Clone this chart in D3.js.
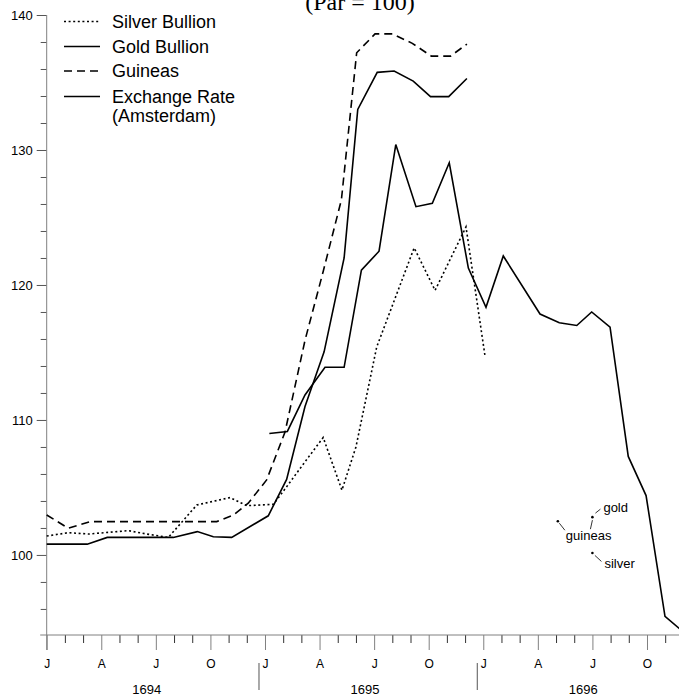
<!DOCTYPE html>
<html>
<head>
<meta charset="utf-8">
<script src="https://cdn.jsdelivr.net/npm/d3@7"></script>
<style>
body{margin:0;background:#fff;}
svg{display:block;font-family:"Liberation Sans",Arial,Helvetica,sans-serif;}
</style>
</head>
<body>
<svg id="chart" width="679" height="697"></svg>
<script>
// [month index (0 = Jan 1694), index value (par = 100)]
const silverBullion = [[0,101.4],[1.19,101.65],[2.3,101.55],[4.49,101.8],[5.5,101.55],[6.69,101.3],
    [8.25,103.7],[10.08,104.25],[11.0,103.65],[12.46,103.75],[13.19,105.05],[14.2,106.9],[15.2,108.7],
    [16.23,104.8],[17.0,108.0],[18.14,115.4],[20.2,122.75],[21.35,119.6],[23.05,124.3],[24.1,114.7]];
const goldBullion = [[0,100.8],[2.23,100.8],[3.33,101.3],[6.96,101.3],[8.28,101.73],[9.16,101.35],
    [10.17,101.3],[12.18,102.9],[13.19,105.6],[14.2,111.0],[15.25,115.05],[16.35,122.0],[17.1,133.0],
    [18.17,135.75],[19.1,135.85],[20.15,135.1],[21.1,133.95],[22.1,133.95],[23.1,135.3]];
const guineas = [[0,102.96],[1.19,101.98],[2.38,102.47],[9.35,102.47],[10.26,102.96],[11.08,103.83],
    [12.09,105.56],[13.1,109.1],[14.2,115.9],[15.2,121.0],[16.2,126.3],[17.04,137.2],[18.05,138.6],
    [19.0,138.6],[20.1,137.9],[21.15,136.95],[22.2,136.95],[23.1,137.85]];
const exchangeRate = [[12.24,109.0],[13.23,109.15],[14.2,111.85],[15.3,113.9],[16.35,113.9],[17.3,121.1],
    [18.27,122.5],[19.19,130.4],[20.3,125.8],[21.2,126.05],[22.13,129.05],[23.18,121.25],[24.15,118.35],
    [25.1,122.15],[27.12,117.85],[28.18,117.2],[29.14,117.0],[29.96,118.0],[30.97,116.87],[31.97,107.3],
    [32.95,104.4],[33.99,95.45],[35,94.3]];

const seriesNames = ["Silver Bullion","Gold Bullion","Guineas","Exchange Rate\n(Amsterdam)"];
const annotations = [
    {name:"guineas", month:28.1, value:102.5},
    {name:"gold", month:30.0, value:102.8},
    {name:"silver", month:30.0, value:100.15}
];
const yTicks = d3.range(96, 141, 2);
const yLabels = [100,110,120,130,140];
const months = d3.range(0, 35);
const monthLetters = ["J","A","J","O"];
const years = [1694,1695,1696];

let svg = d3.select("#chart");
let x = d3.scaleLinear().domain([0, 34.76]).range([46.7, 679]);
let y = d3.scaleLinear().domain([94.07, 140]).range([635, 15]);
let axisGrey = "#808080";

// title (cut off at the top, as in the source)
svg.append("text")
    .attr("x", 360).attr("y", 10)
    .attr("text-anchor", "middle")
    .attr("font-family", "'Liberation Serif','Times New Roman',serif")
    .attr("font-size", "24px")
    .text("(Par = 100)");

// y axis
svg.append("g")
    .attr("transform", `translate(${x(0)},0)`)
    .call(d3.axisLeft(y).tickValues(yTicks.filter(v => v % 10 !== 0)).tickSize(6).tickFormat(""));
let yMajor = svg.append("g")
    .attr("transform", `translate(${x(0)},0)`)
    .call(d3.axisLeft(y).tickValues(yLabels).tickSize(10).tickPadding(4));
yMajor.selectAll("text").attr("font-size", "13px").attr("font-family", null).attr("fill", "#000");
svg.selectAll(".domain").remove();
svg.selectAll(".tick line").attr("stroke", "#555");
svg.append("line")
    .attr("x1", x(0)).attr("x2", x(0))
    .attr("y1", y(140)).attr("y2", y.range()[0] + 15)
    .attr("stroke", axisGrey);

// x axis
let xMinor = svg.append("g")
    .attr("transform", `translate(0,${y.range()[0]})`)
    .call(d3.axisBottom(x).tickValues(months.filter(m => m % 3 !== 0)).tickSize(8).tickFormat(""));
let xMajor = svg.append("g")
    .attr("transform", `translate(0,${y.range()[0]})`)
    .call(d3.axisBottom(x).tickValues(months.filter(m => m % 3 === 0)).tickSize(15).tickPadding(9)
        .tickFormat(m => monthLetters[(m / 3) % 4]));
xMajor.selectAll("text").attr("font-size", "12px").attr("font-family", null).attr("fill", "#000");
xMinor.selectAll(".tick line").attr("stroke", "#333");
xMajor.selectAll(".tick line").attr("stroke", axisGrey);
svg.selectAll(".domain").remove();
svg.append("line")
    .attr("x1", x(0) - 6.5).attr("x2", 679)
    .attr("y1", y.range()[0]).attr("y2", y.range()[0])
    .attr("stroke", axisGrey);

// year labels and separators
svg.selectAll(".yearLabel")
    .data(years)
    .join("text")
    .attr("class", "yearLabel")
    .attr("x", (d, i) => x(i * 12 + 5.5))
    .attr("y", 694)
    .attr("text-anchor", "middle")
    .attr("font-size", "13px")
    .text(d => d);
svg.selectAll(".yearSep")
    .data(years.slice(1))
    .join("line")
    .attr("class", "yearSep")
    .attr("x1", (d, i) => x((i + 1) * 12) - 6)
    .attr("x2", (d, i) => x((i + 1) * 12) - 6)
    .attr("y1", 663).attr("y2", 690)
    .attr("stroke", "#555");

// series
let series = [
    {data: silverBullion, dash: "2,2.6", w: 1.6},
    {data: goldBullion, dash: null, w: 1.6},
    {data: guineas, dash: "8,5", w: 1.6},
    {data: exchangeRate, dash: null, w: 1.6}
];
let line = d3.line().x(d => x(d[0])).y(d => y(d[1]));
svg.selectAll(".series")
    .data(series)
    .join("path")
    .attr("class", "series")
    .attr("d", d => line(d.data))
    .attr("fill", "none")
    .attr("stroke", "#000")
    .attr("stroke-width", d => d.w)
    .attr("stroke-dasharray", d => d.dash);

// legend
let legendY = [21.5, 46.5, 71, 96.5];
let legend = svg.selectAll(".legend")
    .data(series)
    .join("g")
    .attr("class", "legend")
    .attr("transform", (d, i) => `translate(64,${legendY[i]})`);
legend.append("line")
    .attr("x1", 0).attr("x2", 36)
    .attr("stroke", "#000")
    .attr("stroke-width", d => d.w)
    .attr("stroke-dasharray", d => d.dash);
legend.append("text")
    .attr("x", 48)
    .attr("font-size", "18px")
    .selectAll("tspan")
    .data((d, i) => seriesNames[i].split("\n"))
    .join("tspan")
    .attr("x", 48)
    .attr("dy", (d, i) => i === 0 ? "0.35em" : "1.05em")
    .text(d => d);

// small annotations near the bottom right
let labelOffset = {gold: [11, -9.5], guineas: [8, 14], silver: [12, 11]};
// leader lines: [point it starts from, start offset, end offset]
let leaders = [
    ["guineas", [1.5, 2], [7, 9]],
    ["gold", [0, 3], [-2, 12]],
    ["gold", [3, -4], [8, -8]],
    ["silver", [2.5, 2.5], [9, 8.5]]
];
let annByName = {};
annotations.forEach(a => annByName[a.name] = a);
svg.selectAll(".annDot")
    .data(annotations)
    .join("circle")
    .attr("class", "annDot")
    .attr("cx", d => x(d.month))
    .attr("cy", d => y(d.value))
    .attr("r", 1.3)
    .attr("fill", "#000");
svg.selectAll(".annLeader")
    .data(leaders)
    .join("line")
    .attr("class", "annLeader")
    .attr("x1", d => x(annByName[d[0]].month) + d[1][0])
    .attr("y1", d => y(annByName[d[0]].value) + d[1][1])
    .attr("x2", d => x(annByName[d[0]].month) + d[2][0])
    .attr("y2", d => y(annByName[d[0]].value) + d[2][1])
    .attr("stroke", "#000")
    .attr("stroke-width", 0.8);
svg.selectAll(".annText")
    .data(annotations)
    .join("text")
    .attr("class", "annText")
    .attr("x", d => x(d.month) + labelOffset[d.name][0])
    .attr("y", d => y(d.value) + labelOffset[d.name][1])
    .attr("dy", "0.35em")
    .attr("font-size", "13px")
    .text(d => d.name);
</script>
</body>
</html>
